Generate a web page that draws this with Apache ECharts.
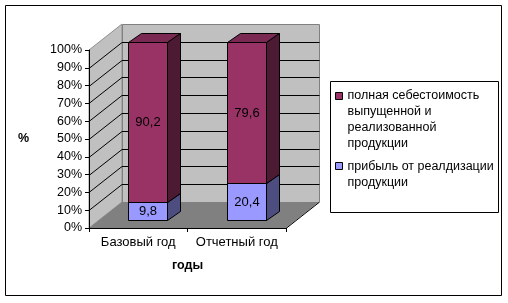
<!DOCTYPE html>
<html><head><meta charset="utf-8">
<script src="https://cdn.jsdelivr.net/npm/echarts@6/dist/echarts.min.js"></script>
<style>html,body{margin:0;padding:0;background:#fff}#c{width:508px;height:303px}</style>
</head><body><div id="c"></div>
<script>
// ---- data ----
const categories = ['Базовый год', 'Отчетный год'];
const seriesNames = ['полная себестоимость выпущенной и реализованной продукции', 'прибыль от реалдизации продукции'];
const legendLabels = ['полная себестоимость\nвыпущенной и\nреализованной\nпродукции', 'прибыль от реалдизации\nпродукции'];
const costValues = [90.2, 79.6];
const profitValues = [9.8, 20.4];
const yTicks = [0, 10, 20, 30, 40, 50, 60, 70, 80, 90, 100];
const xAxisTitle = 'годы';
const yAxisTitle = '%';

// ---- style ----
const FONT = '"Liberation Sans", Arial, sans-serif';
const DX = 33, DY = -26;          // full depth of the 3D box
const FO = [9.5, -8.5];           // bar front offset from front plane
const BD = [13, -9];              // bar depth
const BAR_FRAC = 0.4;
const COLORS = {
  cost: { front: '#993366', top: '#7a2952', side: '#4d1a33' },
  profit: { front: '#9999ff', top: '#7a7acc', side: '#4d4d80' }
};

const profitBase = profitValues.map(() => 0);
const costBase = profitValues.slice();

function fmt(v) { return String(v).replace('.', ','); }

function wallsRender(params, api) {
  const cs = params.coordSys;
  const L = cs.x, R = cs.x + cs.width, T = cs.y, B = cs.y + cs.height;
  const ch = [];
  ch.push({ type: 'polygon', shape: { points: [[L, B], [L + DX, B + DY], [L + DX, T + DY], [L, T]] },
    style: { fill: '#c0c0c0', stroke: '#909090', lineWidth: 1 } });
  ch.push({ type: 'rect', shape: { x: L + DX + 0.5, y: T + DY + 0.5, width: R - L, height: B - T },
    style: { fill: '#c0c0c0', stroke: '#808080', lineWidth: 1 } });
  ch.push({ type: 'polygon', shape: { points: [[L, B], [R, B], [R + DX, B + DY], [L + DX, B + DY]] },
    style: { fill: '#808080' } });
  ch.push({ type: 'polyline', shape: { points: [[R, B + 0.5], [R + DX, B + DY + 0.5]] },
    style: { stroke: '#000', lineWidth: 1, fill: null } });
  yTicks.forEach(v => {
    if (v <= 0 || v >= 100) return;
    const y = Math.round(api.coord([0, v])[1]) + 0.5;
    ch.push({ type: 'polyline', shape: { points: [[L, y], [L + DX, y + DY], [R + DX + 0.5, y + DY]] },
      style: { stroke: '#000', lineWidth: 1, fill: null } });
  });
  return { type: 'group', children: ch };
}

function barRender(colors) {
  return function (params, api) {
    const ci = api.value(0), b = api.value(1), t = api.value(2), val = api.value(3);
    const p0 = api.coord([ci, b]), p1 = api.coord([ci, t]);
    const bw = Math.round(api.size([1, 0])[0] * BAR_FRAC);
    const x0 = Math.round(p0[0] - bw / 2 + FO[0]) + 0.5, x1 = x0 + bw;
    const yb = Math.round(p0[1] + FO[1]) + 0.5, yt = Math.round(p1[1] + FO[1]) + 0.5;
    const sty = (f) => ({ fill: f, stroke: '#000', lineWidth: 1 });
    return {
      type: 'group',
      children: [
        { type: 'polygon', shape: { points: [[x0, yt], [x0 + BD[0], yt + BD[1]], [x1 + BD[0], yt + BD[1]], [x1, yt]] }, style: sty(colors.top) },
        { type: 'polygon', shape: { points: [[x1, yt], [x1 + BD[0], yt + BD[1]], [x1 + BD[0], yb + BD[1]], [x1, yb]] }, style: sty(colors.side) },
        { type: 'rect', shape: { x: x0, y: yt, width: bw, height: yb - yt }, style: sty(colors.front) },
        { type: 'text', x: (x0 + x1) / 2, y: (yt + yb) / 2,
          style: { text: fmt(val), fill: '#000', font: '13px ' + FONT, align: 'center', verticalAlign: 'middle' } }
      ]
    };
  };
}

const chart = echarts.init(document.getElementById('c'), null, { renderer: 'canvas' });
const legendCommon = {
  orient: 'vertical', left: 335, padding: 0, itemWidth: 7, selectedMode: false,
  formatter: n => legendLabels[seriesNames.indexOf(n)],
  textStyle: { fontSize: 12.5, lineHeight: 16, color: '#000', fontFamily: FONT },
  itemStyle: { borderColor: '#000', borderWidth: 1 }
};
chart.setOption({
  animation: false,
  backgroundColor: '#fff',
  grid: { left: 89, top: 50, width: 197, height: 178 },
  xAxis: {
    type: 'category', data: categories, z: 10,
    axisLine: { lineStyle: { color: '#000', width: 1 } },
    axisTick: { show: true, length: 4, interval: 0, lineStyle: { color: '#000' } },
    axisLabel: { color: '#000', fontSize: 13, fontFamily: FONT, margin: 8, interval: 0, hideOverlap: false },
    name: xAxisTitle, nameLocation: 'middle', nameGap: 31,
    nameTextStyle: { color: '#000', fontSize: 12.5, fontWeight: 'bold', fontFamily: FONT }
  },
  yAxis: {
    type: 'value', min: 0, max: 100, interval: 10, z: 10,
    axisLine: { show: true, lineStyle: { color: '#000', width: 1 } },
    axisTick: { show: true, length: 4, lineStyle: { color: '#000' } },
    splitLine: { show: false },
    axisLabel: { color: '#000', fontSize: 12.5, fontFamily: FONT, margin: 7, formatter: '{value}%' },
    name: yAxisTitle, nameLocation: 'middle', nameRotate: 0, nameGap: 60,
    nameTextStyle: { color: '#000', fontSize: 12.5, fontWeight: 'bold', fontFamily: FONT }
  },
  legend: [
    Object.assign({}, legendCommon, { data: [seriesNames[0]], top: 87, itemHeight: 64, icon: 'path://M0,0M0,64M0,5H7V12H0Z' }),
    Object.assign({}, legendCommon, { data: [seriesNames[1]], top: 158, itemHeight: 32, icon: 'path://M0,0M0,32M0,4H7V11H0Z' })
  ],
  graphic: [
    { type: 'rect', shape: { x: 5.5, y: 5.5, width: 496, height: 290 }, style: { fill: null, stroke: '#000', lineWidth: 1 }, silent: true },
    { type: 'rect', shape: { x: 330.5, y: 81.5, width: 168, height: 131 }, style: { fill: null, stroke: '#000', lineWidth: 1 }, silent: true }
  ],
  series: [
    { type: 'custom', name: 'walls', silent: true, z: 0, renderItem: wallsRender, data: [[0, 0]], encode: { x: 0, y: 1 } },
    { type: 'custom', name: seriesNames[1], z: 2, itemStyle: { color: COLORS.profit.front }, renderItem: barRender(COLORS.profit),
      encode: { x: 0, y: [1, 2] },
      data: categories.map((c, i) => [i, profitBase[i], profitBase[i] + profitValues[i], profitValues[i]]) },
    { type: 'custom', name: seriesNames[0], z: 2, itemStyle: { color: COLORS.cost.front }, renderItem: barRender(COLORS.cost),
      encode: { x: 0, y: [1, 2] },
      data: categories.map((c, i) => [i, costBase[i], costBase[i] + costValues[i], costValues[i]]) }
  ]
});
</script></body></html>
